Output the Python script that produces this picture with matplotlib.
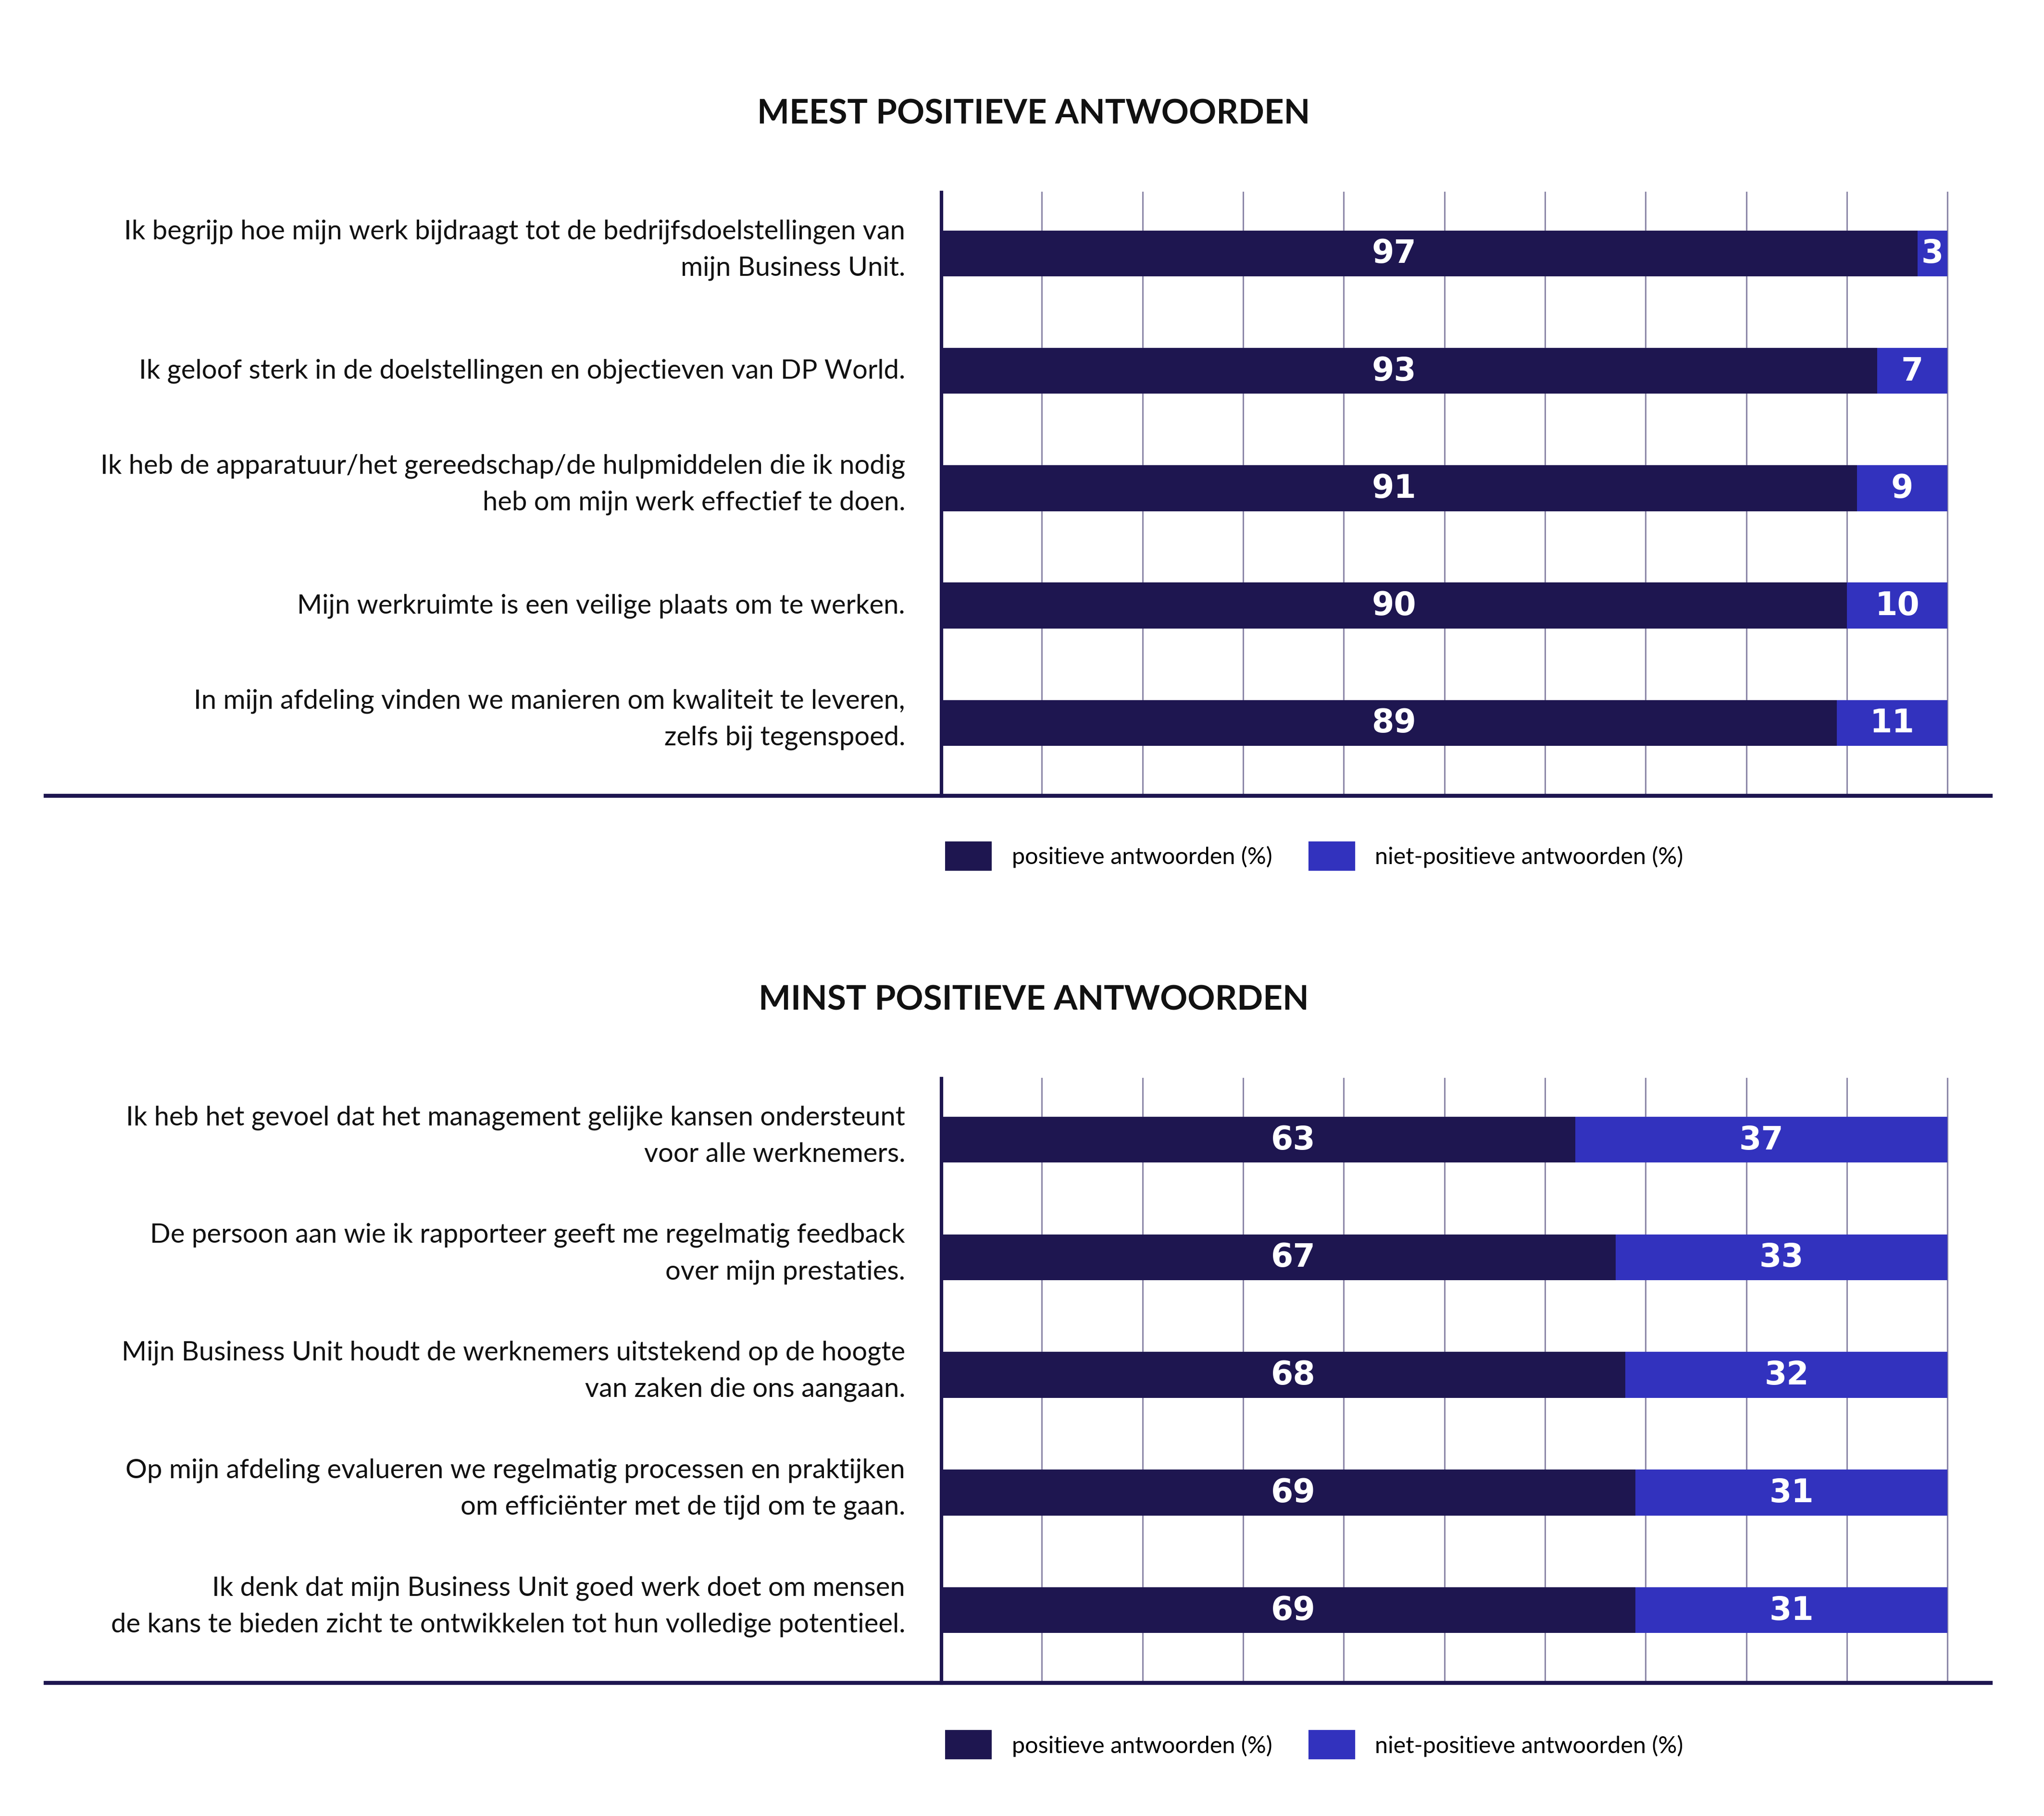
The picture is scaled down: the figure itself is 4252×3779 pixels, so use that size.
import matplotlib
matplotlib.use("Agg")
import matplotlib.pyplot as plt
from matplotlib.lines import Line2D
from matplotlib.transforms import blended_transform_factory

# data
titles = ["MEEST POSITIEVE ANTWOORDEN", "MINST POSITIEVE ANTWOORDEN"]

top_labels = [
    "Ik begrijp hoe mijn werk bijdraagt tot de bedrijfsdoelstellingen van\nmijn Business Unit.",
    "Ik geloof sterk in de doelstellingen en objectieven van DP World.",
    "Ik heb de apparatuur/het gereedschap/de hulpmiddelen die ik nodig\nheb om mijn werk effectief te doen.",
    "Mijn werkruimte is een veilige plaats om te werken.",
    "In mijn afdeling vinden we manieren om kwaliteit te leveren,\nzelfs bij tegenspoed.",
]
top_pos = [97, 93, 91, 90, 89]
top_neg = [3, 7, 9, 10, 11]

bottom_labels = [
    "Ik heb het gevoel dat het management gelijke kansen ondersteunt\nvoor alle werknemers.",
    "De persoon aan wie ik rapporteer geeft me regelmatig feedback\nover mijn prestaties.",
    "Mijn Business Unit houdt de werknemers uitstekend op de hoogte\nvan zaken die ons aangaan.",
    "Op mijn afdeling evalueren we regelmatig processen en praktijken\nom efficiënter met de tijd om te gaan.",
    "Ik denk dat mijn Business Unit goed werk doet om mensen\nde kans te bieden zicht te ontwikkelen tot hun volledige potentieel.",
]
bottom_pos = [63, 67, 68, 69, 69]
bottom_neg = [37, 33, 32, 31, 31]

legend_labels = ["positieve antwoorden (%)", "niet-positieve antwoorden (%)"]

# style
DARK = "#1E1650"
BLUE = "#3232BE"
GRID = "#8C87A8"
plt.rcParams["font.family"] = ["Lato", "DejaVu Sans"]

fig = plt.figure(figsize=(21.26, 18.9), dpi=200)


def draw_panel(rect, title, title_y, labels, pos, neg, pos_text_x, legend_y):
    ax = fig.add_axes(rect)
    y = list(range(len(labels)))
    b1 = ax.barh(y, pos, height=0.39, color=DARK, zorder=2)
    b2 = ax.barh(y, neg, left=pos, height=0.39, color=BLUE, zorder=2)

    for i in y:
        ax.text(pos_text_x, i, str(pos[i]), color="white", fontsize=24,
                fontweight="bold", ha="center", va="center",
                family="DejaVu Sans", zorder=4)
        ax.text(pos[i] + neg[i] / 2, i, str(neg[i]), color="white", fontsize=24,
                fontweight="bold", ha="center", va="center",
                family="DejaVu Sans", zorder=4)

    ax.set_xlim(0, 100)
    ax.set_ylim(len(labels) - 1 + 0.62, -0.52)
    ax.set_xticks(range(10, 101, 10))
    ax.xaxis.grid(True, color=GRID, linewidth=1.1, zorder=3)
    for gl in ax.get_xgridlines():
        gl.set_clip_on(False)
    ax.tick_params(axis="x", length=0, labelbottom=False)
    ax.set_yticks([])

    # category labels, right aligned next to the axis
    trans = blended_transform_factory(ax.transAxes, ax.transData)
    for i, lab in zip(y, labels):
        lift = 0.035 if "\n" in lab else 0.0
        ax.annotate(lab, xy=(0, i - lift), xycoords=trans,
                    xytext=(-27, 0), textcoords="offset points",
                    ha="right", va="center", fontsize=20.2,
                    linespacing=1.6, color="#111111")

    for s in ["top", "right", "bottom"]:
        ax.spines[s].set_visible(False)
    ax.spines["left"].set_color(DARK)
    ax.spines["left"].set_linewidth(2.6)

    # long baseline under the panel
    fig.add_artist(Line2D([0.0223, 0.9739], [rect[1], rect[1]],
                          transform=fig.transFigure, color=DARK, linewidth=3))

    fig.text(0.5057, title_y, title, fontsize=25.5, fontweight="bold",
             ha="center", va="center", color="#111111")

    fig.legend([b1, b2], legend_labels, loc="upper left",
               bbox_to_anchor=(0.4624, legend_y), ncol=2, frameon=False,
               prop={"size": 17.5},
               handlelength=2.0, handleheight=1.55,
               handletextpad=0.85, columnspacing=1.55, borderpad=0,
               borderaxespad=0)
    return ax


draw_panel([0.4605, 0.5617, 0.4923, 0.3321], titles[0], 0.9372,
           top_labels, top_pos, top_neg, 45, 0.5366)
draw_panel([0.4605, 0.0732, 0.4923, 0.3328], titles[1], 0.4494,
           bottom_labels, bottom_pos, bottom_neg, 35, 0.0473)

fig.savefig("out.png", dpi=200, facecolor="white")
